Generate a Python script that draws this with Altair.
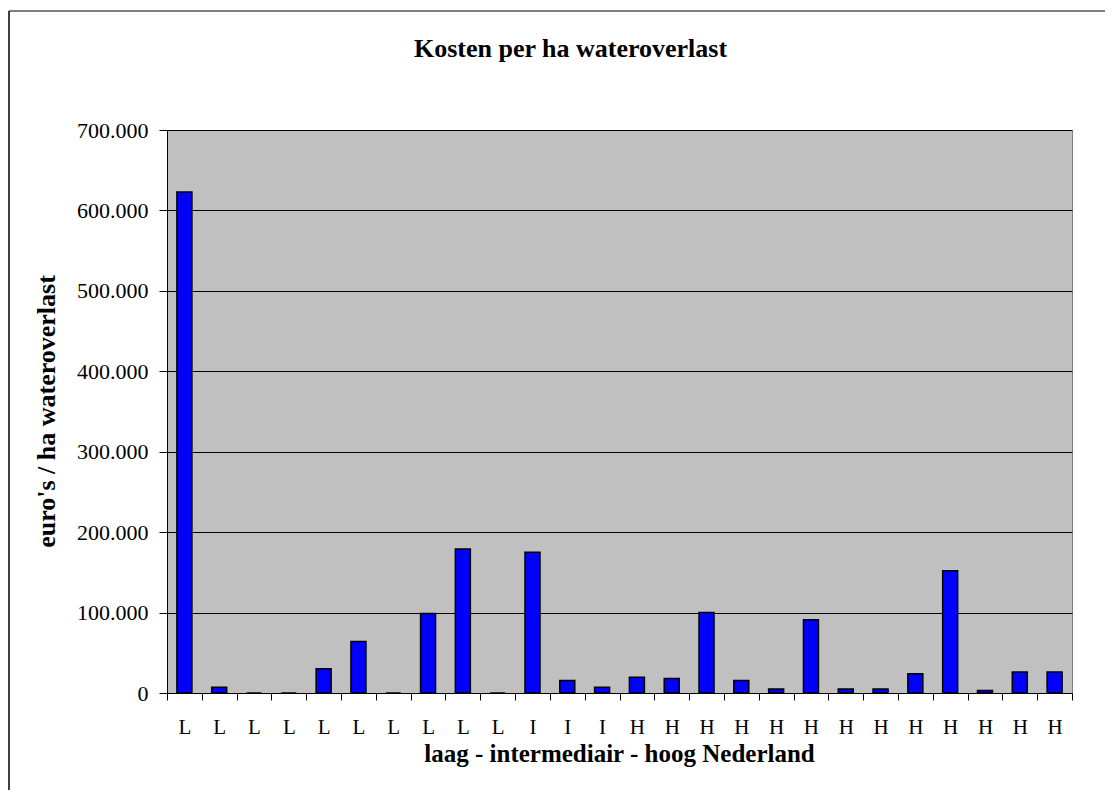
import altair as alt
import pandas as pd

# Category labels (L = laag, I = intermediair, H = hoog Nederland)
groups = ["L"] * 10 + ["I"] * 3 + ["H"] * 13
# Kosten per ha wateroverlast (euro's / ha)
kosten = [623000, 7000, 0, 0, 30000, 64000, 0, 99000, 179000, 0,
          175000, 15500, 7000,
          19500, 18000, 100000, 15500, 5000, 91000, 5000, 5000, 24000, 152000, 3000, 26000, 26000]
y_ticks = [0, 100000, 200000, 300000, 400000, 500000, 600000, 700000]

keys = [f"{g}{i:02d}" for i, g in enumerate(groups)]
df = pd.DataFrame({"key": keys, "groep": groups, "kosten": kosten})

FONT = "Liberation Serif"

bars = alt.Chart(df).mark_bar(
    size=15, color="#0000FF", stroke="black", strokeWidth=1.5
).encode(
    x=alt.X(
        "key:N", sort=keys,
        scale=alt.Scale(paddingInner=0, paddingOuter=0),
        axis=alt.Axis(
            title="laag - intermediair - hoog Nederland",
            labelExpr="isString(datum.value) ? substring(datum.value, 0, 1) : ''",
            labelAngle=0, tickBand="extent", tickSize=7, tickColor="black",
            domainColor="black", labelFont=FONT, labelFontSize=21, labelColor="black",
            labelBaseline="alphabetic", labelPadding=33,
            titleFont=FONT, titleFontSize=25, titleFontWeight="bold", titleColor="black",
            titleBaseline="alphabetic", titleX=452, titleY=68, titleAnchor="middle",
            grid=False,
        ),
    ),
    y=alt.Y(
        "kosten:Q",
        scale=alt.Scale(domain=[0, 700000], nice=False),
        axis=alt.Axis(
            title="euro's / ha wateroverlast",
            values=y_ticks,
            labelExpr="replace(format(datum.value, ','), ',', '.')",
            tickSize=8, tickColor="black", domainColor="black",
            labelFont=FONT, labelFontSize=22, labelColor="black", labelPadding=11,
            grid=True, gridColor="black", gridOpacity=1, gridWidth=1,
            titleFont=FONT, titleFontSize=26, titleFontWeight="bold", titleColor="black",
            titleAngle=-90, titleBaseline="alphabetic", titleAlign="center",
            titleX=-113, titleY=281,
        ),
    ),
)

frame_df = pd.DataFrame({"f": [0]})
frame_left = alt.Chart(frame_df).mark_rule(color="black", strokeWidth=1.5).encode(
    x=alt.value(-158), y=alt.value(-119), y2=alt.value(660)
)
frame_top = alt.Chart(frame_df).mark_rule(color="black", strokeWidth=1).encode(
    x=alt.value(-158), x2=alt.value(960), y=alt.value(-119)
)

chart = alt.layer(bars, frame_left, frame_top).properties(
    width=905,
    height=563,
    padding={"left": 159, "top": 122, "right": 33, "bottom": 100},
    autosize=alt.AutoSizeParams(type="none"),
    background="white",
    title=alt.Title(
        "Kosten per ha wateroverlast",
        font=FONT, fontSize=26, fontWeight="bold", color="black",
        anchor="middle", frame="group", baseline="alphabetic",
        offset=0, dy=73, dx=-49,
    ),
).configure_view(
    fill="#C0C0C0", stroke="#808080", strokeWidth=1
)

chart.save("out.html", embed_options={"renderer": "svg", "actions": False})
